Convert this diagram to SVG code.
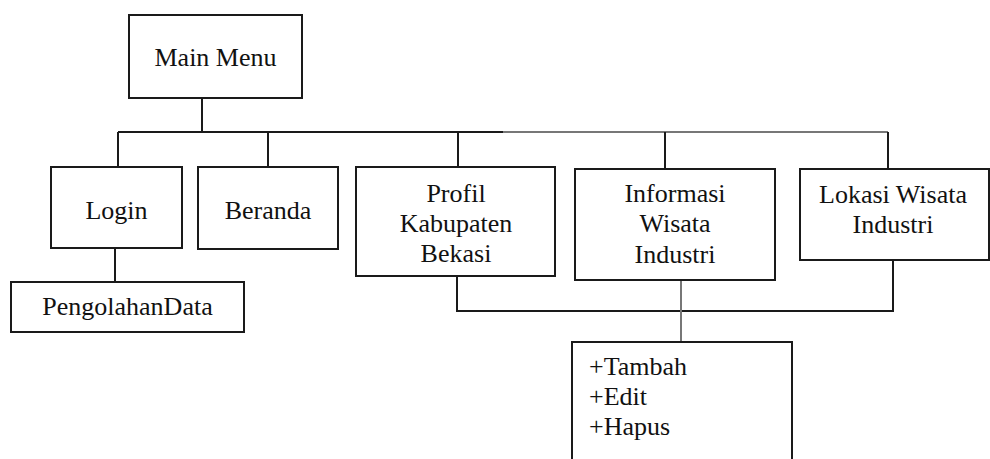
<svg xmlns="http://www.w3.org/2000/svg" width="990" height="459" viewBox="0 0 990 459">
<style>
.box{fill:#fff;stroke:#1a1a1a;stroke-width:2}
.t{font-family:'Liberation Serif','DejaVu Serif',serif;font-size:26px;fill:#111;text-anchor:middle}
.tl{text-anchor:start}
.ln{fill:none;stroke:#1a1a1a;stroke-width:2}
.gr{fill:none;stroke:#777;stroke-width:2}
</style>
<rect width="990" height="459" fill="#fff"/>
<g id="connectors">
<path class="ln" d="M202 98V132M118 132H503M118 132V167M268 132V167M458 132V167"/>
<path class="gr" d="M503 132H888"/>
<path class="ln" d="M665 132V169M888 132V169"/>
<path class="ln" d="M115 248V282"/>
<path class="ln" d="M457 276V311H893V260"/>
<path class="gr" d="M681 280V341"/>
</g>
<g id="main-menu"><rect class="box" x="129" y="15" width="173" height="83"/><text class="t" x="215.5" y="66">Main Menu</text></g>
<g id="login"><rect class="box" x="51" y="167" width="131" height="81"/><text class="t" x="116.5" y="219">Login</text></g>
<g id="pengolahan-data"><rect class="box" x="11" y="282" width="233" height="50"/><text class="t" x="127.5" y="315">PengolahanData</text></g>
<g id="beranda"><rect class="box" x="198" y="167" width="140" height="82"/><text class="t" x="268" y="219">Beranda</text></g>
<g id="profil"><rect class="box" x="356" y="167" width="199" height="109"/><text class="t" x="456" y="202">Profil</text><text class="t" x="456" y="232">Kabupaten</text><text class="t" x="456" y="262">Bekasi</text></g>
<g id="informasi"><rect class="box" x="575" y="169" width="200" height="111"/><text class="t" x="675" y="202">Informasi</text><text class="t" x="675" y="232">Wisata</text><text class="t" x="675" y="263">Industri</text></g>
<g id="lokasi"><rect class="box" x="800" y="169" width="189" height="91"/><text class="t" x="893" y="203">Lokasi Wisata</text><text class="t" x="893" y="233">Industri</text></g>
<g id="aksi"><rect class="box" x="572" y="342" width="220" height="130"/><text class="t tl" x="589" y="375">+Tambah</text><text class="t tl" x="589" y="405">+Edit</text><text class="t tl" x="589" y="435">+Hapus</text></g>
</svg>
